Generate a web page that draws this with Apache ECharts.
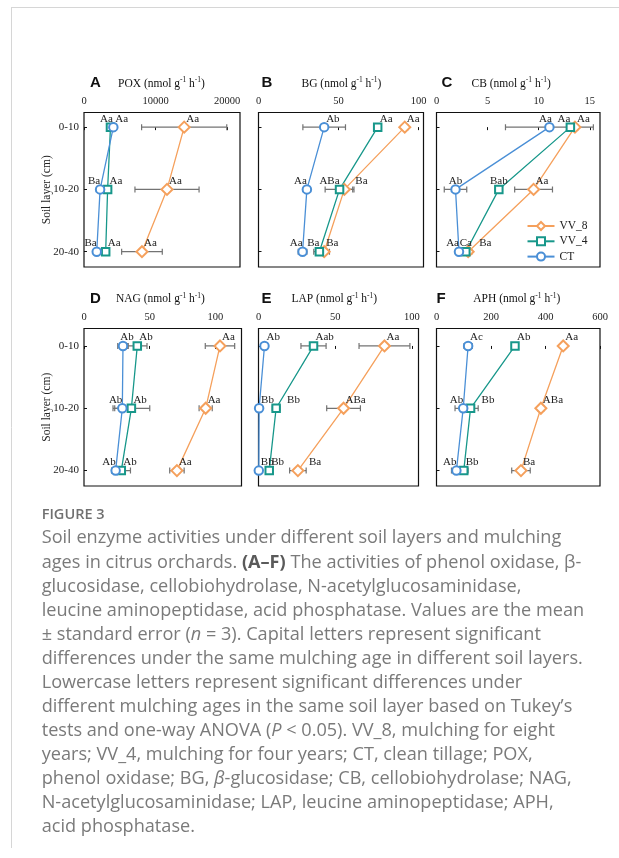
<!DOCTYPE html>
<html>
<head>
<meta charset="utf-8">
<script src="https://cdn.jsdelivr.net/npm/echarts@6.0.0/dist/echarts.min.js"></script>
<style>
html,body{margin:0;padding:0;background:#fff;}
#chart{width:619px;height:858px;}
</style>
</head>
<body>
<div id="chart"></div>
<script>
// ---------------- DATA ----------------
const layers = ['0-10', '10-20', '20-40'];
const treatments = ['VV_8', 'VV_4', 'CT'];
const panelLetters = ['A', 'B', 'C', 'D', 'E', 'F'];
const enzymes = ['POX', 'BG', 'CB', 'NAG', 'LAP', 'APH'];
const yAxisTitle = 'Soil layer (cm)';

// A  POX
const poxTicks = [0, 10000, 20000];
const poxVV8 = [14000, 11600, 8100];
const poxVV8Se = [5950, 4480, 2840];
const poxVV8Sig = ['Aa', 'Aa', 'Aa'];
const poxVV4 = [3700, 3300, 3030];
const poxVV4Se = [350, 250, 200];
const poxVV4Sig = ['Aa', 'Aa', 'Aa'];
const poxCT = [4100, 2250, 1780];
const poxCTSe = [300, 200, 150];
const poxCTSig = ['Aa', 'Ba', 'Ba'];

// B  BG
const bgTicks = [0, 50, 100];
const bgVV8 = [91.3, 53.6, 41.0];
const bgVV8Se = [2, 5.2, 3.3];
const bgVV8Sig = ['Aa', 'Ba', 'Ba'];
const bgVV4 = [74.4, 50.6, 38.0];
const bgVV4Se = [2, 9, 3.5];
const bgVV4Sig = ['Aa', 'ABa', 'Ba'];
const bgCT = [41.0, 30.2, 27.5];
const bgCTSe = [13.3, 1.5, 2.7];
const bgCTSig = ['Ab', 'Aa', 'Aa'];

// C  CB
const cbTicks = [0, 5, 10, 15];
const cbVV8 = [13.55, 9.5, 3.1];
const cbVV8Se = [0.3, 1.85, 0.35];
const cbVV8Sig = ['Aa', 'Aa', 'Ba'];
const cbVV4 = [13.1, 6.1, 2.87];
const cbVV4Se = [0.3, 0.35, 0.3];
const cbVV4Sig = ['Aa', 'Bab', 'Ca'];
const cbCT = [11.05, 1.86, 2.2];
const cbCTSe = [4.3, 1.1, 0.2];
const cbCTSig = ['Aa', 'Ab', 'Aa'];

// D  NAG
const nagTicks = [0, 50, 100];
const nagVV8 = [103.6, 92.7, 70.8];
const nagVV8Se = [11.2, 5, 5.5];
const nagVV8Sig = ['Aa', 'Aa', 'Aa'];
const nagVV4 = [40.6, 36.1, 28.4];
const nagVV4Se = [7.4, 14, 7];
const nagVV4Sig = ['Ab', 'Ab', 'Ab'];
const nagCT = [29.7, 29.2, 24.1];
const nagCTSe = [4, 5.8, 3];
const nagCTSig = ['Ab', 'Ab', 'Ab'];

// E  LAP
const lapTicks = [0, 50, 100];
const lapVV8 = [82.2, 55.5, 25.7];
const lapVV8Se = [16.6, 11, 5.4];
const lapVV8Sig = ['Aa', 'ABa', 'Ba'];
const lapVV4 = [35.9, 11.5, 7.0];
const lapVV4Se = [8.2, 2.5, 1];
const lapVV4Sig = ['Aab', 'Bb', 'Bb'];
const lapCT = [3.9, 0.4, 0.2];
const lapCTSe = [0.5, 0.3, 0.1];
const lapCTSig = ['Ab', 'Bb', 'Bb'];

// F  APH
const aphTicks = [0, 200, 400, 600];
const aphVV8 = [465, 383, 310];
const aphVV8Se = [10, 12, 34];
const aphVV8Sig = ['Aa', 'ABa', 'Ba'];
const aphVV4 = [288, 125, 100];
const aphVV4Se = [10, 28, 16];
const aphVV4Sig = ['Ab', 'Bb', 'Bb'];
const aphCT = [116, 98, 73];
const aphCTSe = [15, 30, 18];
const aphCTSig = ['Ac', 'Ab', 'Ab'];

// caption
const figureLabel = 'FIGURE 3';
const captionLines = [
  [['t', 'Soil enzyme activities under different soil layers and mulching']],
  [['t', 'ages in citrus orchards. '], ['b', '(A\u2013F)'], ['t', ' The activities of phenol oxidase, \u03b2-']],
  [['t', 'glucosidase, cellobiohydrolase, N-acetylglucosaminidase,']],
  [['t', 'leucine aminopeptidase, acid phosphatase. Values are the mean']],
  [['t', '\u00b1 standard error ('], ['i', 'n'], ['t', ' = 3). Capital letters represent significant']],
  [['t', 'differences under the same mulching age in different soil layers.']],
  [['t', 'Lowercase letters represent significant differences under']],
  [['t', 'different mulching ages in the same soil layer based on Tukey\u2019s']],
  [['t', 'tests and one-way ANOVA ('], ['i', 'P'], ['t', ' < 0.05). VV_8, mulching for eight']],
  [['t', 'years; VV_4, mulching for four years; CT, clean tillage; POX,']],
  [['t', 'phenol oxidase; BG, '], ['i', '\u03b2'], ['t', '-glucosidase; CB, cellobiohydrolase; NAG,']],
  [['t', 'N-acetylglucosaminidase; LAP, leucine aminopeptidase; APH,']],
  [['t', 'acid phosphatase.']]
];

// ---------------- STYLE / LAYOUT ----------------
const serif = '"Liberation Serif","Times New Roman",serif';
const sans = '"Liberation Sans",Arial,sans-serif';
const capFont = '"Open Sans","Noto Sans",sans-serif';
const colors = { VV_8: '#F5A05C', VV_4: '#17978A', CT: '#4A8FD6' };
const symbols = { VV_8: 'emptyDiamond', VV_4: 'emptyRect', CT: 'emptyCircle' };
const symSizes = { VV_8: 11, VV_4: 7.5, CT: 8.5 };
const sideStyle = {
  l: { align: 'right', dx: 0 },
  cl: { align: 'center', dx: -4 },
  c: { align: 'center', dx: 0 },
  cr: { align: 'center', dx: 4 },
  r: { align: 'left', dx: 2 },
  rr: { align: 'left', dx: 11 }
};

const panels = [
  { ticks: poxTicks, max: 21800, grid: { left: 84, top: 112.5, width: 156, height: 154.5 }, yMin: -0.235, yMax: 2.246, yLabels: true,
    means: { VV_8: poxVV8, VV_4: poxVV4, CT: poxCT }, se: { VV_8: poxVV8Se, VV_4: poxVV4Se, CT: poxCTSe }, sig: { VV_8: poxVV8Sig, VV_4: poxVV4Sig, CT: poxCTSig },
    sides: { VV_8: ['r', 'r', 'r'], VV_4: ['cl', 'r', 'r'], CT: ['r', 'l', 'l'] }, title: { lx: 90, tx: 118, y: 83 } },
  { ticks: bgTicks, max: 103, grid: { left: 258.5, top: 112.5, width: 165, height: 154.5 }, yMin: -0.235, yMax: 2.246, yLabels: false,
    means: { VV_8: bgVV8, VV_4: bgVV4, CT: bgCT }, se: { VV_8: bgVV8Se, VV_4: bgVV4Se, CT: bgCTSe }, sig: { VV_8: bgVV8Sig, VV_4: bgVV4Sig, CT: bgCTSig },
    sides: { VV_8: ['r', 'rr', 'r'], VV_4: ['r', 'l', 'l'], CT: ['r', 'l', 'l'] }, title: { lx: 261.5, tx: 301.5, y: 83 } },
  { ticks: cbTicks, max: 16, grid: { left: 436.5, top: 112.5, width: 163.5, height: 154.5 }, yMin: -0.235, yMax: 2.246, yLabels: false,
    means: { VV_8: cbVV8, VV_4: cbVV4, CT: cbCT }, se: { VV_8: cbVV8Se, VV_4: cbVV4Se, CT: cbCTSe }, sig: { VV_8: cbVV8Sig, VV_4: cbVV4Sig, CT: cbCTSig },
    sides: { VV_8: ['r', 'r', 'rr'], VV_4: ['l', 'c', 'c'], CT: ['cl', 'c', 'l'] }, title: { lx: 441.5, tx: 471.5, y: 83 } },
  { ticks: nagTicks, max: 120, grid: { left: 84, top: 328.5, width: 157.5, height: 157.5 }, yMin: -0.28, yMax: 2.247, yLabels: true,
    means: { VV_8: nagVV8, VV_4: nagVV4, CT: nagCT }, se: { VV_8: nagVV8Se, VV_4: nagVV4Se, CT: nagCTSe }, sig: { VV_8: nagVV8Sig, VV_4: nagVV4Sig, CT: nagCTSig },
    sides: { VV_8: ['r', 'r', 'r'], VV_4: ['r', 'r', 'r'], CT: ['cr', 'l', 'l'] }, title: { lx: 90, tx: 116, y: 298.5 } },
  { ticks: lapTicks, max: 104.4, grid: { left: 258.5, top: 328.5, width: 160, height: 157.5 }, yMin: -0.28, yMax: 2.247, yLabels: false,
    means: { VV_8: lapVV8, VV_4: lapVV4, CT: lapCT }, se: { VV_8: lapVV8Se, VV_4: lapVV4Se, CT: lapCTSe }, sig: { VV_8: lapVV8Sig, VV_4: lapVV4Sig, CT: lapCTSig },
    sides: { VV_8: ['r', 'r', 'rr'], VV_4: ['r', 'rr', 'r'], CT: ['r', 'r', 'r'] }, title: { lx: 261.5, tx: 291.5, y: 298.5 } },
  { ticks: aphTicks, max: 600, grid: { left: 436.5, top: 328.5, width: 163.5, height: 157.5 }, yMin: -0.28, yMax: 2.247, yLabels: false,
    means: { VV_8: aphVV8, VV_4: aphVV4, CT: aphCT }, se: { VV_8: aphVV8Se, VV_4: aphVV4Se, CT: aphCTSe }, sig: { VV_8: aphVV8Sig, VV_4: aphVV4Sig, CT: aphCTSig },
    sides: { VV_8: ['r', 'r', 'r'], VV_4: ['r', 'rr', 'r'], CT: ['r', 'l', 'l'] }, title: { lx: 436.5, tx: 473.3, y: 298.5 } }
];

// ---------------- BUILD ----------------
const grids = [], xAxes = [], yAxes = [], series = [], graphics = [];

panels.forEach((p, i) => {
  grids.push(Object.assign({ show: true, borderColor: '#111', borderWidth: 1.2, backgroundColor: 'transparent' }, p.grid));
  xAxes.push({
    type: 'value', gridIndex: i, position: 'top', min: 0, max: p.max,
    axisLine: { show: false },
    axisTick: { show: true, inside: true, length: 3, customValues: p.ticks, lineStyle: { color: '#111', width: 1 } },
    axisLabel: { show: true, customValues: p.ticks, margin: 6, fontFamily: serif, fontSize: 10.5, color: '#222',
      formatter: v => String(v) },
    splitLine: { show: false }
  });
  yAxes.push({
    type: 'value', gridIndex: i, inverse: true, min: p.yMin, max: p.yMax,
    axisLine: { show: false },
    axisTick: { show: true, inside: true, length: 3, customValues: [0, 1, 2], lineStyle: { color: '#111', width: 1 } },
    axisLabel: { show: p.yLabels, customValues: [0, 1, 2], margin: 5, fontFamily: serif, fontSize: 11, color: '#222',
      formatter: v => layers[Math.round(v)] },
    splitLine: { show: false },
    name: p.yLabels ? yAxisTitle : '', nameLocation: 'middle', nameGap: 31, nameRotate: 90, nameMoveOverlap: false,
    nameTextStyle: { fontFamily: serif, fontSize: 11.5, color: '#222' }
  });

  treatments.forEach(t => {
    const means = p.means[t], ses = p.se[t];
    series.push({
      type: 'custom', name: 'err_' + t, xAxisIndex: i, yAxisIndex: i, silent: true, clip: true, z: 1,
      data: means.map((m, j) => [m, j, ses[j]]),
      encode: { x: 0, y: 1 },
      renderItem: (params, api) => {
        const v = api.value(0), y = api.value(1), e = api.value(2);
        const a = api.coord([v - e, y]), b = api.coord([v + e, y]);
        const h = 3, st = { stroke: '#737373', lineWidth: 1.2 };
        return { type: 'group', children: [
          { type: 'line', shape: { x1: a[0], y1: a[1], x2: b[0], y2: b[1] }, style: st },
          { type: 'line', shape: { x1: a[0], y1: a[1] - h, x2: a[0], y2: a[1] + h }, style: st },
          { type: 'line', shape: { x1: b[0], y1: b[1] - h, x2: b[0], y2: b[1] + h }, style: st }
        ] };
      }
    });
  });
  treatments.forEach(t => {
    const means = p.means[t], sig = p.sig[t], sides = p.sides[t];
    series.push({
      type: 'line', name: t, xAxisIndex: i, yAxisIndex: i, z: 3,
      symbol: symbols[t], symbolSize: symSizes[t], showAllSymbol: true,
      color: colors[t],
      itemStyle: { color: colors[t], borderWidth: 1.4 },
      lineStyle: { color: colors[t], width: 1.3 },
      data: means.map((m, j) => ({
        value: [m, j],
        label: {
          show: true, formatter: sig[j], position: 'inside',
          align: sideStyle[sides[j]].align, verticalAlign: 'middle',
          offset: [sideStyle[sides[j]].dx, -8.5],
          fontFamily: serif, fontSize: 11, color: '#222'
        }
      }))
    });
  });

  graphics.push({ type: 'text', silent: true, style: { x: p.title.lx, y: p.title.y, text: panelLetters[i], fontFamily: sans, fontWeight: 'bold', fontSize: 15, fill: '#111', verticalAlign: 'middle', align: 'left' } });
  graphics.push({ type: 'text', silent: true, style: {
    x: p.title.tx, y: p.title.y + 0.5, verticalAlign: 'middle', align: 'left',
    text: '{n|' + enzymes[i] + ' (nmol g}{s|-1}{n| h}{s|-1}{n|)}',
    rich: {
      n: { fontFamily: serif, fontSize: 11.5, lineHeight: 14, fill: '#111' },
      s: { fontFamily: serif, fontSize: 7.5, lineHeight: 9, fill: '#111', verticalAlign: 'top' }
    }
  } });
});

// caption font fitting
const ctx = document.createElement('canvas').getContext('2d');
ctx.font = '100px ' + capFont;
const capSize = 100 * 520 / ctx.measureText(captionLines[0][0][1]).width;
ctx.font = '600 100px ' + capFont;
const figSize = 100 * 63 / ctx.measureText(figureLabel).width;
const capColor = '#7a7a7a';

graphics.push({ type: 'line', silent: true, shape: { x1: 11.5, y1: 7, x2: 11.5, y2: 848 }, style: { stroke: '#d6d6d6', lineWidth: 1 } });
graphics.push({ type: 'line', silent: true, shape: { x1: 11, y1: 7.5, x2: 619, y2: 7.5 }, style: { stroke: '#d6d6d6', lineWidth: 1 } });

graphics.push({ type: 'text', silent: true, style: { x: 41.7, y: 515, text: figureLabel, fontFamily: capFont, fontWeight: 600, fontSize: figSize, fill: '#707070', verticalAlign: 'middle' } });
captionLines.forEach((line, k) => {
  graphics.push({ type: 'text', silent: true, style: {
    x: 41.7, y: 538.3 + k * 24.03, verticalAlign: 'middle', align: 'left',
    text: line.map(seg => '{' + seg[0] + '|' + seg[1] + '}').join(''),
    rich: {
      t: { fontFamily: capFont, fontSize: capSize, fill: capColor, lineHeight: 20 },
      b: { fontFamily: capFont, fontSize: capSize, fontWeight: 'bold', fill: '#5a5a5a', lineHeight: 20 },
      i: { fontFamily: capFont, fontSize: capSize, fontStyle: 'italic', fill: capColor, lineHeight: 20 }
    }
  } });
});

const chart = echarts.init(document.getElementById('chart'), null, { renderer: 'canvas' });
chart.setOption({
  animation: false,
  backgroundColor: '#fff',
  grid: grids,
  xAxis: xAxes,
  yAxis: yAxes,
  series: series,
  legend: {
    data: treatments, orient: 'vertical', left: 526.5, top: 220, padding: 0,
    itemWidth: 27, itemHeight: 10, itemGap: 3.3, selectedMode: false,
    textStyle: { fontFamily: serif, fontSize: 11.5, color: '#222', lineHeight: 10 }
  },
  graphic: graphics
});
</script>
</body>
</html>
